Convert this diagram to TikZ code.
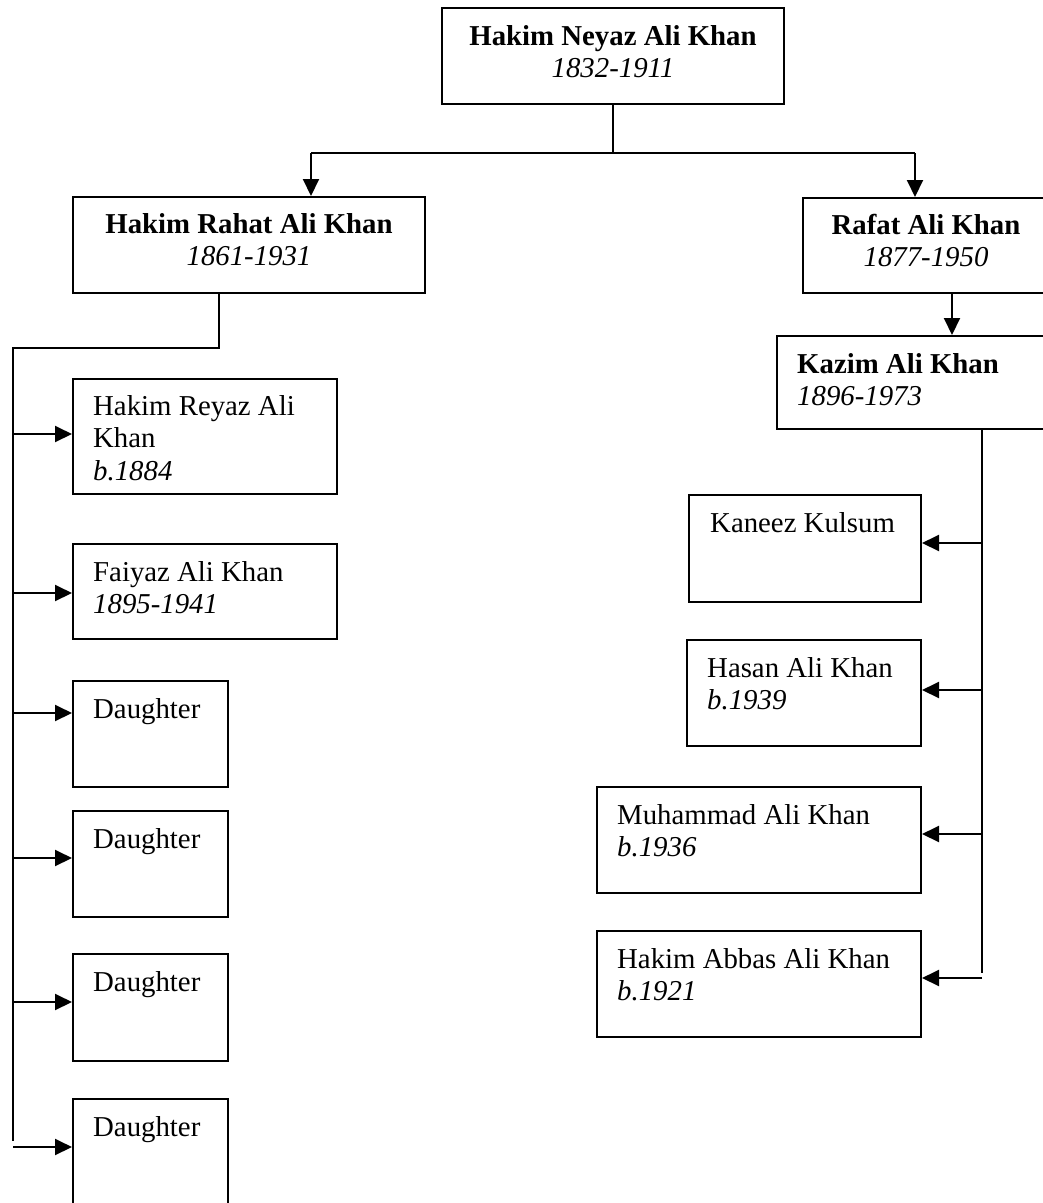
\documentclass[tikz,border=0pt]{standalone}
\usepackage{fontspec}
\setmainfont{Liberation Serif}
\usetikzlibrary{arrows.meta,calc}
\begin{document}
\begin{tikzpicture}[x=1pt,y=1pt,
  box/.style={draw,line width=2pt,rectangle,inner sep=0pt,anchor=north west},
  lbl/.style={inner sep=0pt,font=\fontsize{28.8}{32.5}\selectfont},
  ln/.style={line width=2pt},
  arr/.style={line width=2pt,-{Triangle[length=17pt,width=16pt]}}]
\clip (0,0) rectangle (1043,-1203);
\fill[white] (0,0) rectangle (1043,-1203);
% boxes
\node[box,minimum width=342pt,minimum height=96pt] (top) at (441,-7) {};
\node[box,minimum width=352pt,minimum height=96pt] (rahat) at (72,-196) {};
\node[box,minimum width=250pt,minimum height=95pt] (rafat) at (802,-197) {};
\node[box,minimum width=300pt,minimum height=93pt] (kazim) at (776,-335) {};
\node[box,minimum width=264pt,minimum height=115pt] (reyaz) at (72,-378) {};
\node[box,minimum width=264pt,minimum height=95pt] (faiyaz) at (72,-543) {};
\node[box,minimum width=155pt,minimum height=106pt] (d1) at (72,-680) {};
\node[box,minimum width=155pt,minimum height=106pt] (d2) at (72,-810) {};
\node[box,minimum width=155pt,minimum height=107pt] (d3) at (72,-953) {};
\node[box,minimum width=155pt,minimum height=107pt] (d4) at (72,-1098) {};
\node[box,minimum width=232pt,minimum height=107pt] (kaneez) at (688,-494) {};
\node[box,minimum width=234pt,minimum height=106pt] (hasan) at (686,-639) {};
\node[box,minimum width=324pt,minimum height=106pt] (muhammad) at (596,-786) {};
\node[box,minimum width=324pt,minimum height=106pt] (abbas) at (596,-930) {};
% labels
\node[lbl,anchor=base] (ttop) at ($(top.north)+(0,-38)$) {\begin{tabular}[t]{@{}c@{}}\textbf{Hakim Neyaz Ali Khan}\\\textit{1832-1911}\end{tabular}};
\node[lbl,anchor=base] (trahat) at ($(rahat.north)+(0,-37)$) {\begin{tabular}[t]{@{}c@{}}\textbf{Hakim Rahat Ali Khan}\\\textit{1861-1931}\end{tabular}};
\node[lbl,anchor=base] (trafat) at ($(rafat.north west)+(124,-37)$) {\begin{tabular}[t]{@{}c@{}}\textbf{Rafat Ali Khan}\\\textit{1877-1950}\end{tabular}};
\node[lbl,anchor=base west] (tkazim) at ($(kazim.north west)+(21,-38)$) {\begin{tabular}[t]{@{}l@{}}\textbf{Kazim Ali Khan}\\\textit{1896-1973}\end{tabular}};
\node[lbl,anchor=base west] (treyaz) at ($(reyaz.north west)+(21,-37)$) {\begin{tabular}[t]{@{}l@{}}Hakim Reyaz Ali\\Khan\\\textit{b.1884}\end{tabular}};
\node[lbl,anchor=base west] (tfaiyaz) at ($(faiyaz.north west)+(21,-38)$) {\begin{tabular}[t]{@{}l@{}}Faiyaz Ali Khan\\\textit{1895-1941}\end{tabular}};
\node[lbl,anchor=base west] (td1) at ($(d1.north west)+(21,-38)$) {Daughter};
\node[lbl,anchor=base west] (td2) at ($(d2.north west)+(21,-38)$) {Daughter};
\node[lbl,anchor=base west] (td3) at ($(d3.north west)+(21,-38)$) {Daughter};
\node[lbl,anchor=base west] (td4) at ($(d4.north west)+(21,-38)$) {Daughter};
\node[lbl,anchor=base west] (tkaneez) at ($(kaneez.north west)+(22,-38)$) {Kaneez Kulsum};
\node[lbl,anchor=base west] (thasan) at ($(hasan.north west)+(21,-38)$) {\begin{tabular}[t]{@{}l@{}}Hasan Ali Khan\\\textit{b.1939}\end{tabular}};
\node[lbl,anchor=base west] (tmuhammad) at ($(muhammad.north west)+(21,-38)$) {\begin{tabular}[t]{@{}l@{}}Muhammad Ali Khan\\\textit{b.1936}\end{tabular}};
\node[lbl,anchor=base west] (tabbas) at ($(abbas.north west)+(21,-38)$) {\begin{tabular}[t]{@{}l@{}}Hakim Abbas Ali Khan\\\textit{b.1921}\end{tabular}};
% junction coordinates
\coordinate (jt) at (613,-153);
\coordinate (jl) at (311,-153);
\coordinate (jr) at (915,-153);
\coordinate (rs) at ($(rahat.south west)+(147,0)$);
\coordinate (ls1) at (219,-348);
\coordinate (ls2) at (13,-348);
\coordinate (lsend) at (13,-1141);
\coordinate (rk) at ($(rafat.south west)+(150,0)$);
\coordinate (ks) at ($(kazim.south west)+(206,0)$);
\coordinate (rsend) at (982,-973);
% top connectors
\draw[ln] (jt |- top.south) -- (jt);
\draw[ln] (jl) -- (jr);
\draw[arr] (jl) -- (jl |- rahat.north);
\draw[arr] (jr) -- (jr |- rafat.north);
\draw[arr] (rk) -- (rk |- kazim.north);
% left spine
\draw[ln] (rs) -- (ls1) -- (ls2) -- (lsend);
\foreach \n/\yy in {reyaz/434,faiyaz/593,d1/713,d2/858,d3/1002,d4/1147}
  \draw[arr] (13,-\yy) -- (\n.west |- 13,-\yy);
% right spine
\draw[ln] (ks) -- (rsend);
\foreach \n/\yy in {kaneez/543,hasan/690,muhammad/834,abbas/978}
  \draw[arr] (982,-\yy) -- (\n.east |- 982,-\yy);
\end{tikzpicture}
\end{document}
